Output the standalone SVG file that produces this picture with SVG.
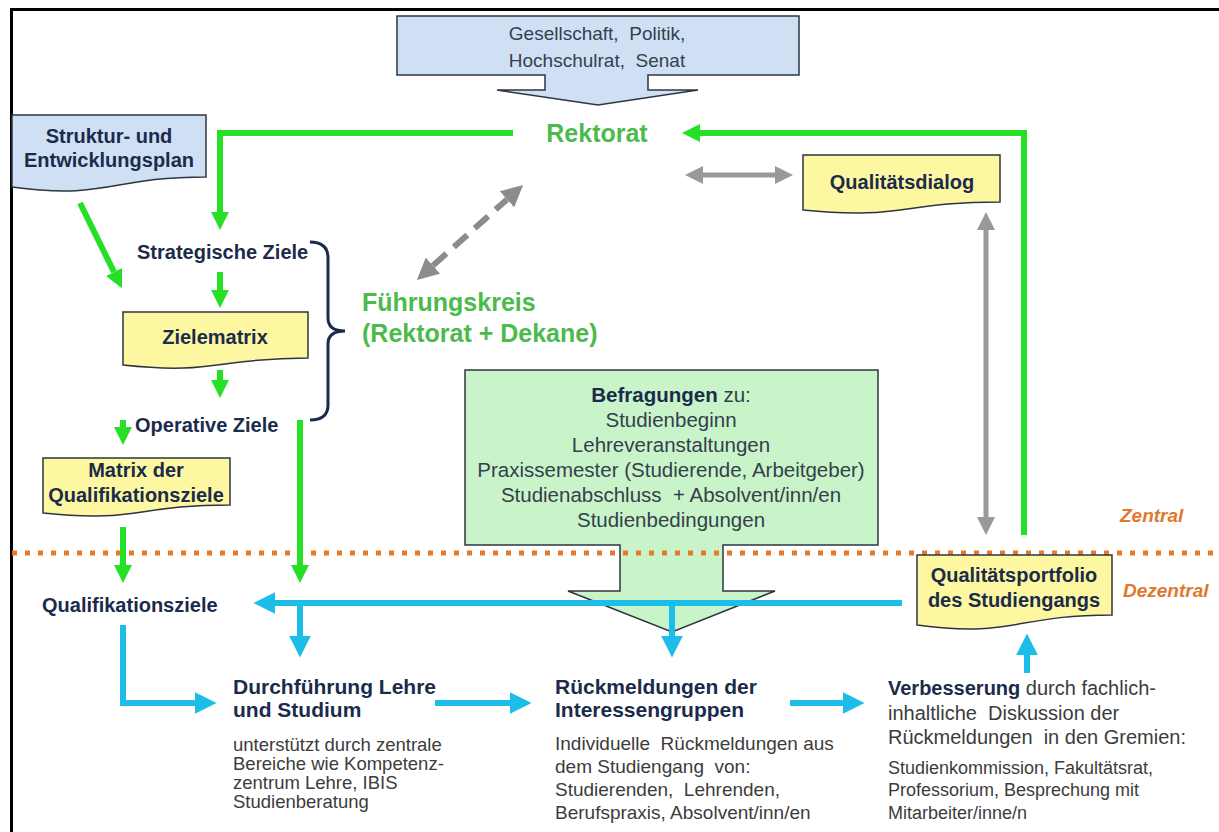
<svg xmlns="http://www.w3.org/2000/svg" width="1219" height="832" viewBox="0 0 1219 832">
<style>
text{font-family:"Liberation Sans",Arial,sans-serif}
.b{font-weight:bold;fill:#1b2b4b}
.r{fill:#34404c}
.d{fill:#3c3c3c}
.gt{font-weight:bold;fill:#4cba4c}
.or{font-weight:bold;font-style:italic;fill:#e0782e;font-size:19px}
.doc{stroke:#2e3440;stroke-width:1.5}
.yel{fill:#fdf7a1}
.blu{fill:#cfe0f4}
.g{stroke:#26e026;stroke-width:6;fill:none}
.bl{stroke:#1cbde8;stroke-width:6;fill:none}
.gy{stroke:#999;stroke-width:5;fill:none}
</style>
<defs>
<marker id="gA" viewBox="0 0 10 10" refX="0" refY="5" markerWidth="3" markerHeight="3" markerUnits="strokeWidth" orient="auto-start-reverse"><path d="M0,0L10,5L0,10z" fill="#26e026"/></marker>
<marker id="bA" viewBox="0 0 10 10" refX="0" refY="5" markerWidth="3.6" markerHeight="3.6" markerUnits="strokeWidth" orient="auto-start-reverse"><path d="M0,0L10,5L0,10z" fill="#1cbde8"/></marker>
<marker id="yA" viewBox="0 0 10 10" refX="0" refY="5" markerWidth="3.6" markerHeight="3.6" markerUnits="strokeWidth" orient="auto-start-reverse"><path d="M0,0L10,5L0,10z" fill="#999"/></marker>
<marker id="dA" viewBox="0 0 10 10" refX="0" refY="5" markerWidth="3.6" markerHeight="3.6" markerUnits="strokeWidth" orient="auto-start-reverse"><path d="M0,0L10,5L0,10z" fill="#8c8c8c"/></marker>
</defs>
<rect width="1219" height="832" fill="#fff"/>
<g id="frame" stroke="#000" stroke-width="3">
<line x1="10" y1="9.5" x2="1219" y2="9.5"/>
<line x1="11.5" y1="8" x2="11.5" y2="832"/>
</g>

<g id="gesellschaft">
<path class="blu doc" d="M397,16H799V75H648V90H698L598,105L497,90H545V75H397Z"/>
<text class="r" x="597" y="40" font-size="19" text-anchor="middle" xml:space="preserve">Gesellschaft,  Politik,</text>
<text class="r" x="597" y="67" font-size="19" text-anchor="middle" xml:space="preserve">Hochschulrat,  Senat</text>
</g>

<g id="befragungen">
<path class="doc" fill="#c9f4c9" d="M465,370H878V545H723V591H775L672,632L568,591H620V545H465Z"/>
<text class="r" x="671" y="402" font-size="20.5" text-anchor="middle"><tspan font-weight="bold" fill="#1b2b4b">Befragungen</tspan> zu:</text>
<text class="r" x="671" y="427" font-size="20.5" text-anchor="middle">Studienbeginn</text>
<text class="r" x="671" y="452" font-size="20.5" text-anchor="middle">Lehreveranstaltungen</text>
<text class="r" x="671" y="477" font-size="20.5" text-anchor="middle">Praxissemester (Studierende, Arbeitgeber)</text>
<text class="r" x="671" y="502" font-size="20.5" text-anchor="middle" xml:space="preserve">Studienabschluss  + Absolvent/inn/en</text>
<text class="r" x="671" y="527" font-size="20.5" text-anchor="middle">Studienbedingungen</text>
</g>

<g id="divider">
<line x1="12" y1="553" x2="1219" y2="553" stroke="#e8782a" stroke-width="5" stroke-dasharray="5 8"/>
<text class="or" x="1120" y="522">Zentral</text>
<text class="or" x="1123" y="597">Dezentral</text>
</g>

<g id="connectors">
<polyline class="g" points="513,133 220,133 220,212" marker-end="url(#gA)"/>
<polyline class="g" points="1024,535 1024,133 700,133" marker-end="url(#gA)"/>
<line class="g" x1="80" y1="203" x2="114" y2="272" marker-end="url(#gA)"/>
<line class="g" x1="220" y1="272" x2="220" y2="290" marker-end="url(#gA)"/>
<line class="g" x1="220" y1="370" x2="220" y2="380" marker-end="url(#gA)"/>
<line class="g" x1="123" y1="420" x2="123" y2="427" marker-end="url(#gA)"/>
<line class="g" x1="123" y1="527" x2="123" y2="565" marker-end="url(#gA)"/>
<line class="g" x1="300" y1="420" x2="300" y2="565" marker-end="url(#gA)"/>
<line class="bl" x1="902" y1="603" x2="275" y2="603" marker-end="url(#bA)"/>
<line class="bl" x1="300" y1="603" x2="300" y2="636" marker-end="url(#bA)"/>
<polyline class="bl" points="123,625 123,703 195,703" marker-end="url(#bA)"/>
<line class="bl" x1="435" y1="703" x2="510" y2="703" marker-end="url(#bA)"/>
<line class="bl" x1="672" y1="603" x2="672" y2="636" marker-end="url(#bA)"/>
<line class="bl" x1="790" y1="703" x2="843" y2="703" marker-end="url(#bA)"/>
<line class="bl" x1="1027" y1="673" x2="1027" y2="655" marker-end="url(#bA)"/>
<line class="gy" x1="703" y1="175" x2="775" y2="175" marker-start="url(#yA)" marker-end="url(#yA)"/>
<line class="gy" x1="986" y1="230" x2="986" y2="517" marker-start="url(#yA)" marker-end="url(#yA)"/>
<line x1="433" y1="265.6" x2="507" y2="199.4" stroke="#8c8c8c" stroke-width="6" stroke-dasharray="18 10" marker-start="url(#dA)" marker-end="url(#dA)"/>
<path d="M310,242Q328,242 328,258V318Q328,331 345,331Q328,331 328,344V405Q328,420 310,420" fill="none" stroke="#1b2b4b" stroke-width="3"/>
</g>

<g id="rektorat">
<text class="gt" x="597" y="142" font-size="25" text-anchor="middle">Rektorat</text>
</g>

<g id="fuehrungskreis">
<text class="gt" x="362" y="311" font-size="25">Führungskreis</text>
<text class="gt" x="362" y="342" font-size="25">(Rektorat + Dekane)</text>
</g>

<g id="struktur">
<path class="blu doc" d="M12,115H206V177C109,177 109,200 12,187Z"/>
<text class="b" x="109" y="143" font-size="20" text-anchor="middle">Struktur- und</text>
<text class="b" x="109" y="167" font-size="20" text-anchor="middle">Entwicklungsplan</text>
</g>

<g id="qualitaetsdialog">
<path class="yel doc" d="M803,155H1000V202C901,202 901,220 803,210Z"/>
<text class="b" x="902" y="189" font-size="20" text-anchor="middle">Qualitätsdialog</text>
</g>

<g id="strategische">
<text class="b" x="137" y="259" font-size="20">Strategische Ziele</text>
</g>

<g id="zielematrix">
<path class="yel doc" d="M123,312H308V358C215,358 215,375 123,365Z"/>
<text class="b" x="215" y="344" font-size="20" text-anchor="middle">Zielematrix</text>
</g>

<g id="operative">
<text class="b" x="135" y="432" font-size="20">Operative Ziele</text>
</g>

<g id="matrix">
<path class="yel doc" d="M43,458H230V505C136,505 136,523 43,513Z"/>
<text class="b" x="136" y="477" font-size="20" text-anchor="middle">Matrix der</text>
<text class="b" x="136" y="502" font-size="20" text-anchor="middle">Qualifikationsziele</text>
</g>

<g id="qualifikationsziele">
<text class="b" x="42" y="612" font-size="20">Qualifikationsziele</text>
</g>

<g id="portfolio">
<path class="yel doc" d="M917,555H1112V615C1014,615 1014,638 917,625Z"/>
<text class="b" x="1014" y="582" font-size="20" text-anchor="middle">Qualitätsportfolio</text>
<text class="b" x="1014" y="607" font-size="20" text-anchor="middle">des Studiengangs</text>
</g>

<g id="durchfuehrung">
<text class="b" x="233" y="694" font-size="21">Durchführung Lehre</text>
<text class="b" x="233" y="717" font-size="21">und Studium</text>
<text class="d" x="233" y="751" font-size="18.5">unterstützt durch zentrale</text>
<text class="d" x="233" y="770" font-size="18.5">Bereiche wie Kompetenz-</text>
<text class="d" x="233" y="789" font-size="18.5">zentrum Lehre, IBIS</text>
<text class="d" x="233" y="808" font-size="18.5">Studienberatung</text>
</g>

<g id="rueckmeldungen">
<text class="b" x="555" y="694" font-size="21">Rückmeldungen der</text>
<text class="b" x="555" y="717" font-size="21">Interessengruppen</text>
<text class="d" x="555" y="750" font-size="19" xml:space="preserve">Individuelle  Rückmeldungen aus</text>
<text class="d" x="555" y="773" font-size="19" xml:space="preserve">dem Studiengang  von:</text>
<text class="d" x="555" y="796" font-size="19" xml:space="preserve">Studierenden,  Lehrenden,</text>
<text class="d" x="555" y="819" font-size="19">Berufspraxis, Absolvent/inn/en</text>
</g>

<g id="verbesserung">
<text class="d" x="888" y="695" font-size="20"><tspan font-weight="bold" fill="#1b2b4b">Verbesserung</tspan> durch fachlich-</text>
<text class="d" x="888" y="720" font-size="20" xml:space="preserve">inhaltliche  Diskussion der</text>
<text class="d" x="888" y="744" font-size="20" xml:space="preserve">Rückmeldungen  in den Gremien:</text>
<text class="d" x="888" y="774" font-size="18">Studienkommission, Fakultätsrat,</text>
<text class="d" x="888" y="796" font-size="18">Professorium, Besprechung mit</text>
<text class="d" x="888" y="819" font-size="18">Mitarbeiter/inne/n</text>
</g>
</svg>
